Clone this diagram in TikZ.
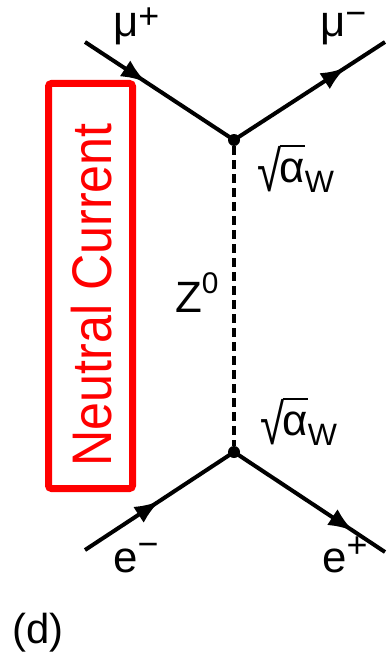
\documentclass[tikz,border=0pt]{standalone}
\usepackage{fontspec}
\setmainfont{Liberation Sans}
\usetikzlibrary{arrows.meta}
\usetikzlibrary{decorations.markings}

\newcommand{\upr}[2]{\raisebox{#1}{\fontsize{36}{36}\selectfont #2}}
\newcommand{\dnr}[1]{\raisebox{-10bp}{\fontsize{31}{31}\selectfont #1}}
\newcommand{\rootal}{\raisebox{-9bp}{\scalebox{1}[1.3]{√}}\kern-0.04em
  \vbox{\hrule height 2.5bp\kern 11bp\hbox{α}}}

\begin{document}
\begin{tikzpicture}[x=1bp,y=-1bp]

  \tikzset{vertex/.style = {shape=circle,fill,inner sep=0pt,minimum size=12bp}}
  \tikzset{fermion/.style = {line width=4bp,postaction={decorate,
      decoration={markings,mark=at position #1 with {\arrow{Latex[length=25bp,width=19bp]}}}}}}
  \tikzset{boson/.style = {line width=4bp,dash pattern=on 9bp off 5bp}}
  \tikzset{lab/.style = {anchor=base west,inner sep=0pt,font=\fontsize{44}{50}\selectfont}}
  \useasboundingbox (0,0) rectangle (390,658);
  % vertices
  \node[vertex] (top) at (234,140) {};
  \node[vertex] (bot) at (234,452) {};
  \coordinate (mup) at (85,42);
  \coordinate (mum) at (385,42);
  \coordinate (em)  at (85,550);
  \coordinate (ep)  at (385,552);
  %edges
  \draw[fermion=0.41] (mup) -- (top.center);
  \draw[fermion=0.74] (top.center) -- (mum);
  \draw[fermion=0.50] (em) -- (bot.center);
  \draw[fermion=0.79] (bot.center) -- (ep);
  \draw[boson] (top) -- (bot);
  % labels
  \node[lab] (lmup) at (113,37)  {μ\upr{8bp}{+}};
  \node[lab] (lmum) at (320,37)  {μ\upr{11bp}{−}};
  \node[lab] (ltop) at (257,182) {\rootal\dnr{W}};
  \node[lab] (lbot) at (260,435) {\rootal\dnr{W}};
  \node[lab] (lz)   at (175,312) {Z\upr{19bp}{\fontsize{30}{30}\selectfont 0}};
  \node[lab] (lem)  at (113,572) {e\upr{16bp}{−}};
  \node[lab] (lep)  at (322,572) {e\upr{15bp}{+}};
  \node[lab,font=\fontsize{42}{46}\selectfont] (ld) at (12,643) {(d)};
  % box
  \node[draw=red,line width=7bp,rounded corners=3bp,minimum width=84bp,
    minimum height=405bp,inner sep=0pt] (nc) at (90.5,286) {};
  \node[red,rotate=90,inner sep=0pt,font=\fontsize{56}{60}\selectfont]
    (nclab) at (92,295) {\scalebox{0.9}[1]{Neutral Current}};
\end{tikzpicture}
\end{document}
